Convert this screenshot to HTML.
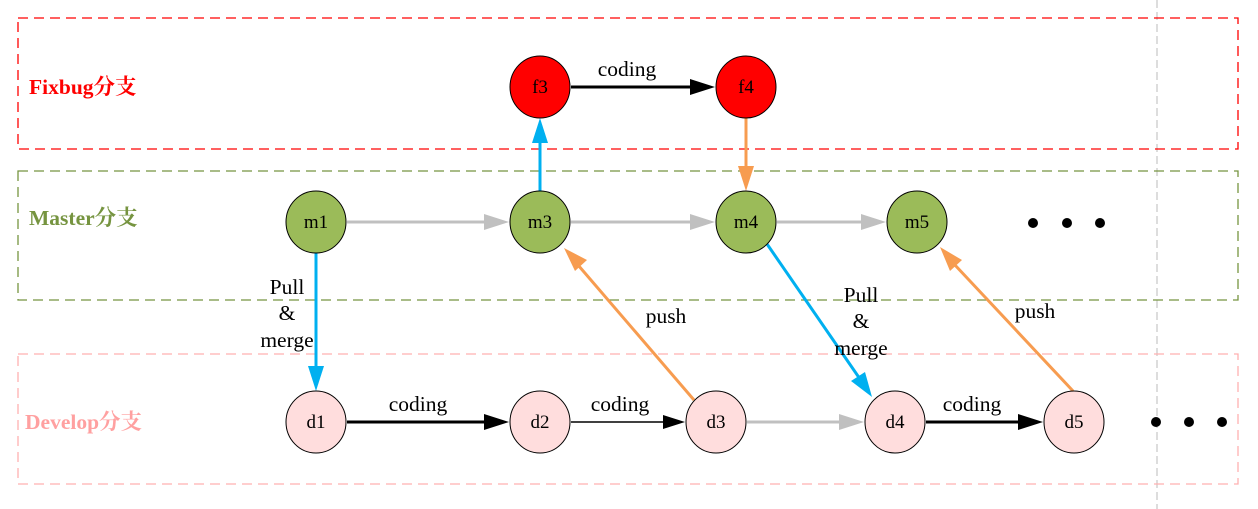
<!DOCTYPE html>
<html><head><meta charset="utf-8"><style>
html,body{margin:0;padding:0;background:#fff;width:1258px;height:509px;overflow:hidden}
svg{display:block}
.lbl{font-family:"Liberation Serif","Noto Serif CJK SC",serif;font-size:21.5px}
.nd{font-family:"Liberation Serif",serif;font-size:19px}
.br{font-family:"Liberation Serif","Noto Serif CJK SC",serif;font-size:21.5px;font-weight:bold}
</style></head><body>
<svg width="1258" height="509" viewBox="0 0 1258 509" xmlns="http://www.w3.org/2000/svg">
<line x1="1157" y1="0" x2="1157" y2="509" stroke="#bbb" stroke-width="1" stroke-dasharray="8,4"/>
<rect x="18" y="18" width="1220" height="131" fill="none" stroke="#f00" stroke-width="1.3" stroke-dasharray="10,6"/>
<rect x="18" y="171" width="1220" height="129" fill="none" stroke="#769440" stroke-width="1.3" stroke-dasharray="10,6"/>
<rect x="18" y="354" width="1220" height="130" fill="none" stroke="#ffb0b0" stroke-width="1.3" stroke-dasharray="10,6"/>
<text class="br" x="29" y="94" fill="#f00">Fixbug分支</text>
<text class="br" x="29" y="225" fill="#769440">Master分支</text>
<text class="br" x="25" y="429" fill="#ffa0a0">Develop分支</text>

<g stroke="#c0c0c0" stroke-width="3" fill="#c0c0c0">
<line x1="347" y1="222" x2="486" y2="222"/><polygon points="509,222 484,214 484,230" stroke="none"/>
<line x1="571" y1="222" x2="692" y2="222"/><polygon points="715,222 690,214 690,230" stroke="none"/>
<line x1="777" y1="222" x2="863" y2="222"/><polygon points="886,222 861,214 861,230" stroke="none"/>
<line x1="747" y1="422" x2="841" y2="422"/><polygon points="864,422 839,414 839,430" stroke="none"/>
</g>
<g fill="#000" stroke="#000">
<line x1="571" y1="87" x2="692" y2="87" stroke-width="3"/><polygon points="715,87 690,79 690,95" stroke="none"/>
<line x1="347" y1="422" x2="486" y2="422" stroke-width="3"/><polygon points="509,422 484,414 484,430" stroke="none"/>
<line x1="571" y1="422" x2="665" y2="422" stroke-width="1.5"/><polygon points="685,422 663,415 663,429" stroke="none"/>
<line x1="926" y1="422" x2="1020" y2="422" stroke-width="3"/><polygon points="1043,422 1018,414 1018,430" stroke="none"/>
</g>
<g stroke="#00b0f0" stroke-width="3" fill="#00b0f0">
<line x1="540" y1="191" x2="540" y2="140"/><polygon points="540,118 532,143 548,143" stroke="none"/>
<line x1="316" y1="253" x2="316" y2="368"/><polygon points="316,391 308,366 324,366" stroke="none"/>
<line x1="767" y1="244" x2="860" y2="379"/><polygon points="872,397 851,381 865,372" stroke="none"/>
</g>
<g stroke="#f79c50" stroke-width="3" fill="#f79c50">
<line x1="746" y1="118" x2="746" y2="170"/><polygon points="746,191 738,166 754,166" stroke="none"/>
<line x1="694" y1="400" x2="578" y2="265"/><polygon points="564,248 587,260 575,271" stroke="none"/>
<line x1="1073" y1="391" x2="954" y2="264"/><polygon points="940,247 962,260 950,271" stroke="none"/>
</g>

<g stroke="#000" stroke-width="1">
<ellipse cx="540" cy="87" rx="30" ry="31" fill="#f00"/>
<ellipse cx="746" cy="87" rx="30" ry="31" fill="#f00"/>
<ellipse cx="316" cy="222" rx="30" ry="31" fill="#9bbb59"/>
<ellipse cx="540" cy="222" rx="30" ry="31" fill="#9bbb59"/>
<ellipse cx="746" cy="222" rx="30" ry="31" fill="#9bbb59"/>
<ellipse cx="917" cy="222" rx="30" ry="31" fill="#9bbb59"/>
<ellipse cx="316" cy="422" rx="30" ry="31" fill="#ffdddd"/>
<ellipse cx="540" cy="422" rx="30" ry="31" fill="#ffdddd"/>
<ellipse cx="716" cy="422" rx="30" ry="31" fill="#ffdddd"/>
<ellipse cx="895" cy="422" rx="30" ry="31" fill="#ffdddd"/>
<ellipse cx="1074" cy="422" rx="30" ry="31" fill="#ffdddd"/>
</g>
<g class="nd" text-anchor="middle">
<text x="540" y="93">f3</text><text x="746" y="93">f4</text>
<text x="316" y="228">m1</text><text x="540" y="228">m3</text><text x="746" y="228">m4</text><text x="917" y="228">m5</text>
<text x="316" y="428">d1</text><text x="540" y="428">d2</text><text x="716" y="428">d3</text><text x="895" y="428">d4</text><text x="1074" y="428">d5</text>
</g>
<g class="lbl" text-anchor="middle">
<text x="627" y="76">coding</text>
<text x="418" y="411">coding</text>
<text x="620" y="411">coding</text>
<text x="972" y="411">coding</text>
<text x="666" y="323">push</text>
<text x="1035" y="318">push</text>
<text x="287" y="294">Pull</text><text x="287" y="320">&amp;</text><text x="287" y="347">merge</text>
<text x="861" y="302">Pull</text><text x="861" y="328">&amp;</text><text x="861" y="355">merge</text>
</g>
<g fill="#000">
<circle cx="1033" cy="223" r="5"/><circle cx="1067" cy="223" r="5"/><circle cx="1100" cy="223" r="5"/>
<circle cx="1156" cy="422" r="5"/><circle cx="1189" cy="422" r="5"/><circle cx="1222" cy="422" r="5"/>
</g>
</svg>
</body></html>
